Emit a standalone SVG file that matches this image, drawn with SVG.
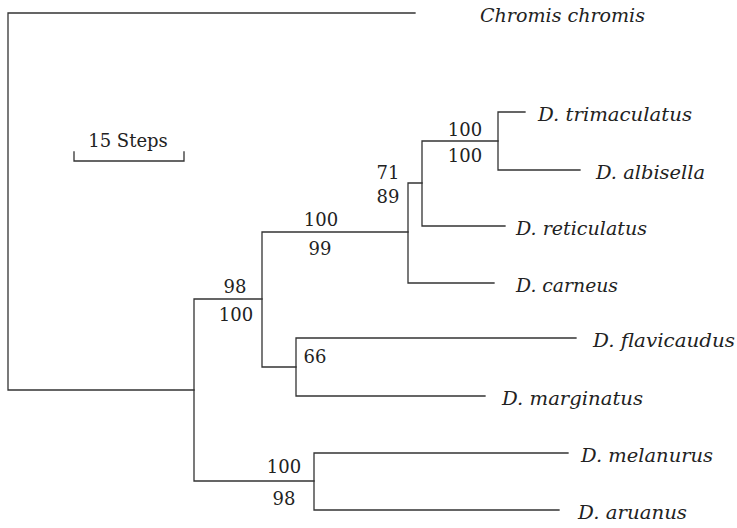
<svg xmlns="http://www.w3.org/2000/svg" width="737" height="528" viewBox="0 0 737 528">
<style>
.br{stroke:#333;stroke-width:1.3;fill:none;stroke-linecap:square}
.sp{font-family:"DejaVu Serif","Liberation Serif",serif;font-style:italic;font-size:18px;fill:#222}
.bs{font-family:"DejaVu Serif","Liberation Serif",serif;font-size:18px;fill:#222;text-anchor:middle}
</style>
<rect width="737" height="528" fill="#fff"/>
<g id="connectors" class="br">
<path d="M415,13H8V390H194"/>
<path d="M262,299H194V481H314"/>
<path d="M408,232H262V367H296"/>
<path d="M576,338H296V396H485"/>
<path d="M422,183H408V283H494"/>
<path d="M498,141H422V226H505"/>
<path d="M525,112H498V170H580"/>
<path d="M568,453H314V510H559"/>
</g>
<g id="scale">
<path class="br" d="M74,152V161H184V152"/>
<text class="bs" x="128" y="147">15 Steps</text>
</g>
<g id="chromis"><text class="sp" x="480" y="22" textLength="165" lengthAdjust="spacingAndGlyphs">Chromis chromis</text></g>
<g id="trimaculatus"><text class="sp" x="538" y="121" textLength="154" lengthAdjust="spacingAndGlyphs">D. trimaculatus</text></g>
<g id="albisella"><text class="sp" x="596" y="179" textLength="109" lengthAdjust="spacingAndGlyphs">D. albisella</text></g>
<g id="reticulatus"><text class="sp" x="516" y="235" textLength="131" lengthAdjust="spacingAndGlyphs">D. reticulatus</text></g>
<g id="carneus"><text class="sp" x="516" y="292" textLength="102" lengthAdjust="spacingAndGlyphs">D. carneus</text></g>
<g id="flavicaudus"><text class="sp" x="593" y="347" textLength="142" lengthAdjust="spacingAndGlyphs">D. flavicaudus</text></g>
<g id="marginatus"><text class="sp" x="502" y="405" textLength="141" lengthAdjust="spacingAndGlyphs">D. marginatus</text></g>
<g id="melanurus"><text class="sp" x="581" y="462" textLength="132" lengthAdjust="spacingAndGlyphs">D. melanurus</text></g>
<g id="aruanus"><text class="sp" x="578" y="519" textLength="109" lengthAdjust="spacingAndGlyphs">D. aruanus</text></g>
<g id="nodeF"><text class="bs" x="465" y="136">100</text><text class="bs" x="465" y="162">100</text></g>
<g id="nodeE"><text class="bs" x="388" y="179">71</text><text class="bs" x="388" y="203">89</text></g>
<g id="nodeD"><text class="bs" x="321" y="226">100</text><text class="bs" x="320" y="255">99</text></g>
<g id="nodeB"><text class="bs" x="235" y="293">98</text><text class="bs" x="236" y="321">100</text></g>
<g id="nodeC"><text class="bs" x="315" y="363">66</text></g>
<g id="nodeG"><text class="bs" x="284" y="473">100</text><text class="bs" x="284" y="505">98</text></g>
</svg>
